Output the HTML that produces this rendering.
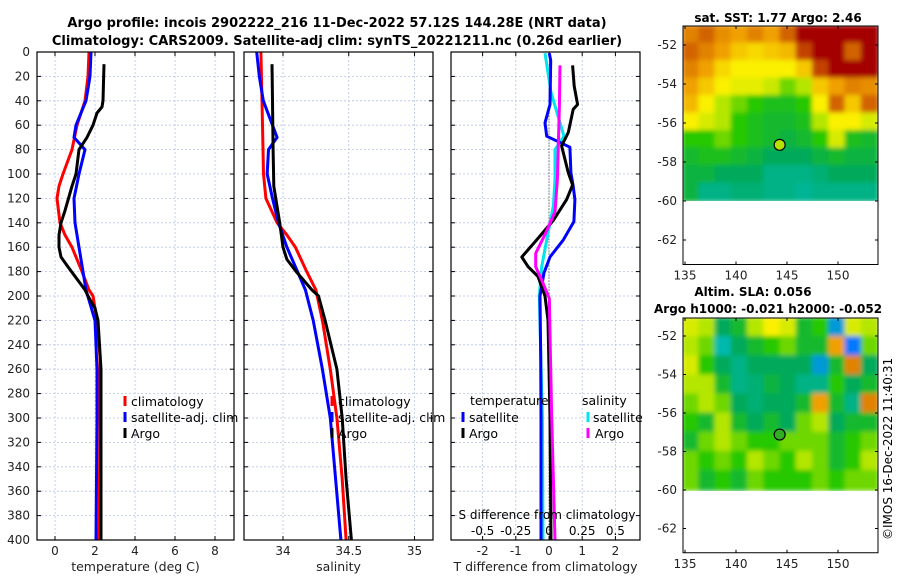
<!DOCTYPE html>
<html><head><meta charset="utf-8"><style>
body{margin:0;background:#fff;}
svg{font-family:"DejaVu Sans","Liberation Sans",sans-serif;}
</style></head><body>
<svg id="s" width="900" height="580" viewBox="0 0 900 580" xmlns="http://www.w3.org/2000/svg">
<defs>
<filter id="bl" x="0" y="0" width="1" height="1"><feGaussianBlur stdDeviation="2.5"/></filter>
<clipPath id="c1"><rect x="683" y="26" width="195" height="175"/></clipPath>
<clipPath id="c2"><rect x="683" y="318" width="195" height="173"/></clipPath>
</defs>
<text x="337" y="27" text-anchor="middle" font-size="13" font-weight="bold">Argo profile: incois 2902222_216 11-Dec-2022 57.12S 144.28E (NRT data)</text>
<text x="337" y="45" text-anchor="middle" font-size="13" font-weight="bold">Climatology: CARS2009. Satellite-adj clim: synTS_20221211.nc (0.26d earlier)</text>
<text x="778" y="22" text-anchor="middle" font-size="12" font-weight="bold">sat. SST: 1.77 Argo: 2.46</text>
<text x="753" y="296" text-anchor="middle" font-size="12" font-weight="bold">Altim. SLA: 0.056</text>
<text x="654" y="313" font-size="12" font-weight="bold">Argo h1000: -0.021 h2000: -0.052</text>
<text transform="translate(892,540) rotate(-90)" font-size="12">©IMOS 16-Dec-2022 11:40:31</text>
<g id="g"></g>
</svg>
<script>
// ---------- data ----------
const depthTicks=[0,20,40,60,80,100,120,140,160,180,200,220,240,260,280,300,320,340,360,380,400];
const tTicks=[0,2,4,6,8];
const sTicks=[34,34.5,35];
const tdTicks=[-2,-1,0,1,2];
const tdTickLabels=["-2","-1","0","1","2"];
const sdTickLabels=["-0.5","-0.25","0","0.25","0.5"];
const sdTicks=[-0.5,-0.25,0,0.25,0.5];
// temperature profiles
const tClimDepth=[0,20,40,60,80,100,110,120,140,150,160,170,180,195,200,220,250,300,400];
const tClimVal=[1.7,1.65,1.5,1.1,0.85,0.4,0.2,0.1,0.25,0.5,0.85,1.1,1.35,1.7,1.9,2.1,2.25,2.25,2.2];
const tSatDepth=[0,20,40,60,70,80,100,120,140,160,195,220,260,300,400];
const tSatVal=[1.8,1.75,1.55,1.05,0.95,1.5,1.2,0.95,1.0,1.2,1.55,2.0,2.1,2.1,2.05];
const tArgoDepth=[10,40,45,50,60,70,80,100,110,130,140,150,160,168,175,185,195,200,210,220,260,300,400];
const tArgoVal=[2.45,2.4,2.35,2.1,1.9,1.6,1.2,1.05,0.85,0.5,0.3,0.2,0.2,0.3,0.6,1.05,1.5,1.65,2.0,2.15,2.3,2.3,2.3];
// salinity profiles
const sClimDepth=[0,40,100,120,140,150,160,180,195,220,260,300,350,400];
const sClimVal=[33.832,33.84,33.852,33.87,33.955,34.03,34.094,34.18,34.25,34.30,34.36,34.41,34.45,34.48];
const sSatDepth=[0,20,40,60,70,80,100,120,140,160,180,195,220,260,300,350,400];
const sSatVal=[33.80,33.82,33.85,33.92,33.955,33.89,33.88,33.92,33.966,34.03,34.11,34.17,34.23,34.30,34.36,34.40,34.44];
const sArgoDepth=[10,40,80,110,140,160,170,180,195,200,220,260,300,350,400];
const sArgoVal=[33.916,33.92,33.925,33.93,33.975,34.0,34.03,34.10,34.22,34.27,34.32,34.41,34.45,34.48,34.52];
// difference profiles
const dtSatDepth=[1,7,43,58,69,78,99,110,121,139,154,168,181,200,250,300,400];
const dtSatVal=[0.01,0.05,0.03,-0.12,-0.07,0.63,0.66,0.73,0.78,0.75,0.43,0.03,-0.15,-0.27,-0.25,-0.24,-0.24];
const dtArgoDepth=[11,28,43,47,66,77,99,109,121,138,154,168,176,184,200,220,300,400];
const dtArgoVal=[0.71,0.76,0.86,0.73,0.58,0.38,0.58,0.71,0.53,0.13,-0.37,-0.82,-0.63,-0.33,-0.12,-0.03,0.03,0.06];
const dsArgoDepth=[11,44,77,104,131,148,165,176,187,202,300,400];
const dsArgoVal=[0.083,0.078,0.07,0.063,0.045,-0.023,-0.1,-0.1,-0.055,0.002,0.02,0.045];
const dsSatDepth=[1,33,58,69,80,104,126,154,176,200,300,400];
const dsSatVal=[-0.03,0.015,0.083,0.113,0.045,0.045,0.033,-0.017,-0.055,-0.073,-0.05,-0.045];
// maps
const lonTicks=[135,140,145,150];
const latTicks=[-52,-54,-56,-58,-60,-62];
const sstGrid=[
[.8,.85,.78,.75,.8,.75,.85,1,1,1,1,1],
[.85,.8,.75,.7,.68,.7,.72,.9,1,1,.85,1],
[.8,.75,.68,.65,.65,.65,.65,.7,.9,1,1,1],
[.75,.7,.65,.62,.62,.58,.5,.55,.7,.75,.8,.78],
[.72,.65,.55,.5,.45,.42,.42,.45,.65,.85,.7,.85],
[.65,.6,.55,.45,.42,.4,.4,.42,.55,.65,.65,.6],
[.45,.45,.5,.45,.42,.4,.38,.4,.45,.6,.42,.4],
[.4,.42,.42,.4,.38,.35,.35,.35,.38,.4,.38,.38],
[.38,.38,.35,.35,.35,.3,.3,.3,.32,.35,.35,.35],
[.38,.3,.3,.32,.32,.3,.3,.28,.3,.3,.3,.3]];
const slaGrid=[
[.6,.55,.35,.4,.55,.65,.6,.4,.45,.2,.6,.55],
[.55,.5,.25,.35,.4,.45,.5,.4,.4,.75,.15,.5],
[.6,.45,.35,.3,.35,.35,.35,.35,.2,.4,.8,.35],
[.55,.55,.4,.3,.32,.38,.35,.3,.3,.45,.35,.4],
[.5,.55,.5,.35,.32,.35,.35,.4,.75,.4,.3,.8],
[.45,.4,.55,.4,.35,.4,.35,.5,.55,.35,.4,.4],
[.4,.5,.55,.5,.45,.45,.5,.5,.5,.4,.45,.5],
[.5,.45,.5,.45,.55,.5,.45,.55,.5,.4,.45,.55],
[.5,.4,.45,.4,.5,.45,.45,.45,.5,.45,.5,.5]];
const argoLon=144.28, argoLat=-57.12;

// ---------- helpers ----------
const NS="http://www.w3.org/2000/svg";
const G=document.getElementById('g');
function mk(tag,at,par){const e=document.createElementNS(NS,tag);for(const k in at)e.setAttribute(k,at[k]);(par||G).appendChild(e);return e;}
const Y=d=>52+d*1.22;
const P1={x0:37,x1:234,f:v=>55+20*v};
const P2={x0:244,x1:433,f:v=>283+(v-34)*131.5};
const P3={x0:451,x1:640,f:v=>549+33.2*v};
const sdX=v=>549+v*33.2/0.25;

function panel(P,name,xt,xlab,lab){
  const fr=mk('rect',{x:P.x0,y:52,width:P.x1-P.x0,height:488,fill:'#fff',stroke:'none'});
  
  depthTicks.forEach(d=>{const l=mk('line',{x1:P.x0,x2:P.x1,y1:Y(d),y2:Y(d),stroke:'#b8c4e6','stroke-width':0.8,'stroke-dasharray':'2,2'});
    
    mk('line',{x1:P.x0,x2:P.x0+4,y1:Y(d),y2:Y(d),stroke:'#000'});mk('line',{x1:P.x1-4,x2:P.x1,y1:Y(d),y2:Y(d),stroke:'#000'});});
  xt.forEach((v,i)=>{const x=P.f(v);const l=mk('line',{x1:x,x2:x,y1:52,y2:540,stroke:'#b8c4e6','stroke-width':0.8,'stroke-dasharray':'2,2'});
    
    mk('line',{x1:x,x2:x,y1:540,y2:536,stroke:'#000'});mk('line',{x1:x,x2:x,y1:52,y2:56,stroke:'#000'});
    const t=mk('text',{x:x,y:555,'text-anchor':'middle','font-size':12,fill:'#222'});t.textContent=xlab[i];
    });
  const t=mk('text',{x:(P.x0+P.x1)/2,y:571,'text-anchor':'middle','font-size':12.5,fill:'#222'});t.textContent=lab;
  
}
function border(P,name){const b=mk('rect',{x:P.x0,y:52,width:P.x1-P.x0,height:488,fill:'none',stroke:'#000','stroke-width':1.2});
  }
function line(ds,vs,fx,col,name){
  const pts=ds.map((d,i)=>fx(vs[i]).toFixed(1)+','+Y(d).toFixed(1)).join(' ');
  const p=mk('polyline',{points:pts,fill:'none',stroke:col,'stroke-width':3,'stroke-linejoin':'round'});
  }
function leg(x,y,col,txt,name,tx){const m=mk('line',{x1:x,x2:x,y1:y-10,y2:y,stroke:col,'stroke-width':3});
  
  const t=mk('text',{x:tx||x+6,y:y,'font-size':12.5,fill:'#000'});t.textContent=txt;
  }

// depth labels
depthTicks.forEach(d=>{const t=mk('text',{x:30,y:Y(d)+4,'text-anchor':'end','font-size':12,fill:'#222'});t.textContent=d;
  });

panel(P1,'temperature',tTicks,tTicks.map(String),'temperature (deg C)');
panel(P2,'salinity',sTicks,sTicks.map(String),'salinity');
panel(P3,'difference',tdTicks,tdTickLabels,'T difference from climatology');
const z=mk('line',{x1:549,x2:549,y1:Y(30),y2:540,stroke:'#333','stroke-width':1,'stroke-dasharray':'1,2'});


line(tClimDepth,tClimVal,P1.f,'#ff0000','temp-climatology-line');
line(tSatDepth,tSatVal,P1.f,'#0000ff','temp-satellite-line');
line(tArgoDepth,tArgoVal,P1.f,'#000','temp-argo-line');
line(sClimDepth,sClimVal,P2.f,'#ff0000','sal-climatology-line');
line(sSatDepth,sSatVal,P2.f,'#0000ff','sal-satellite-line');
line(sArgoDepth,sArgoVal,P2.f,'#000','sal-argo-line');
line(dsSatDepth,dsSatVal,sdX,'#00e5ee','sdiff-satellite-line');
line(dtSatDepth,dtSatVal,P3.f,'#0000ff','tdiff-satellite-line');
line(dtArgoDepth,dtArgoVal,P3.f,'#000','tdiff-argo-line');
line(dsArgoDepth,dsArgoVal,sdX,'#ff00ff','sdiff-argo-line');

border(P1,'temperature');border(P2,'salinity');border(P3,'difference');

leg(125,406,'#ff0000','climatology','legend-climatology');
leg(125,422,'#0000ff','satellite-adj. clim','legend-satellite');
leg(125,438,'#000','Argo','legend-argo');
leg(332,406,'#ff0000','climatology','legend2-climatology');
leg(332,422,'#0000ff','satellite-adj. clim','legend2-satellite');
leg(332,438,'#000','Argo','legend2-argo');
let t=mk('text',{x:470,y:405,'font-size':12.5});t.textContent='temperature';
t=mk('text',{x:582,y:405,'font-size':12.5});t.textContent='salinity';
leg(463,422,'#0000ff','satellite','legend3-t-satellite');
leg(463,438,'#000','Argo','legend3-t-argo');
leg(588,422,'#00e5ee','satellite','legend3-s-satellite',593);
leg(588,438,'#ff00ff','Argo','legend3-s-argo',595);
t=mk('text',{x:547,y:519,'text-anchor':'middle','font-size':12});t.textContent='S difference from climatology';

sdTicks.forEach((v,i)=>{const tt=mk('text',{x:sdX(v),y:535,'text-anchor':'middle','font-size':12});tt.textContent=sdTickLabels[i];
  });

// ---------- maps ----------
const stops=[[0,[0,0,200]],[.15,[0,120,255]],[.25,[0,185,175]],[.35,[0,170,90]],[.45,[40,200,0]],[.55,[180,230,0]],[.65,[250,240,0]],[.75,[240,160,0]],[.85,[210,100,0]],[1,[165,0,0]]];
function cmap(v){for(let i=1;i<stops.length;i++){if(v<=stops[i][0]){const a=stops[i-1],b=stops[i];const f=(v-a[0])/(b[0]-a[0]);
  return 'rgb('+a[1].map((c,k)=>Math.round(c+(b[1][k]-c)*f)).join(',')+')';}}return 'rgb(165,0,0)';}
function map(grid,top,latY,clip,name,circFill){
  const lonX=l=>685+(l-135)*10.2;
  const x0=683,x1=878,yb=latY(-60),ytop=top;
  const grp=mk('g',{'clip-path':'url(#'+clip+')'});
  
  const inner=mk('g',{filter:'url(#bl)'},grp);
  const nr=grid.length,nc=grid[0].length,cw=(x1-x0)/nc,ch=(yb-ytop)/nr;
  grid.forEach((row,r)=>row.forEach((v,c)=>{const cell=mk('rect',{x:x0+c*cw-1,y:ytop+r*ch-1,width:cw+2,height:ch+2,fill:cmap(v)},inner);
    }));
  const fr=mk('rect',{x:x0,y:top,width:x1-x0,height:latY(-63)-top+5,fill:'none',stroke:'#000','stroke-width':1});
  
  const bot=latY(-63)+5;
  latTicks.forEach(l=>{const y=latY(l);mk('line',{x1:x0,x2:x0+3,y1:y,y2:y,stroke:'#000'});mk('line',{x1:x1-3,x2:x1,y1:y,y2:y,stroke:'#000'});
    const tt=mk('text',{x:x0-6,y:y+4,'text-anchor':'end','font-size':12,fill:'#222'});tt.textContent=l;
    });
  lonTicks.forEach(l=>{const x=lonX(l);mk('line',{x1:x,x2:x,y1:bot,y2:bot-3,stroke:'#000'});mk('line',{x1:x,x2:x,y1:top,y2:top+3,stroke:'#000'});
    const tt=mk('text',{x:x,y:bot+15,'text-anchor':'middle','font-size':12,fill:'#222'});tt.textContent=l;
    });
  const c=mk('circle',{cx:lonX(argoLon),cy:latY(argoLat),r:5.5,fill:circFill,stroke:'#000','stroke-width':1.2});
  
}
map(sstGrid,26,l=>45+(-52-l)*19.5,'c1','sst-map','#b5e000');
map(slaGrid,318,l=>336+(-52-l)*19.25,'c2','sla-map','#30b020');
</script>
</body></html>
